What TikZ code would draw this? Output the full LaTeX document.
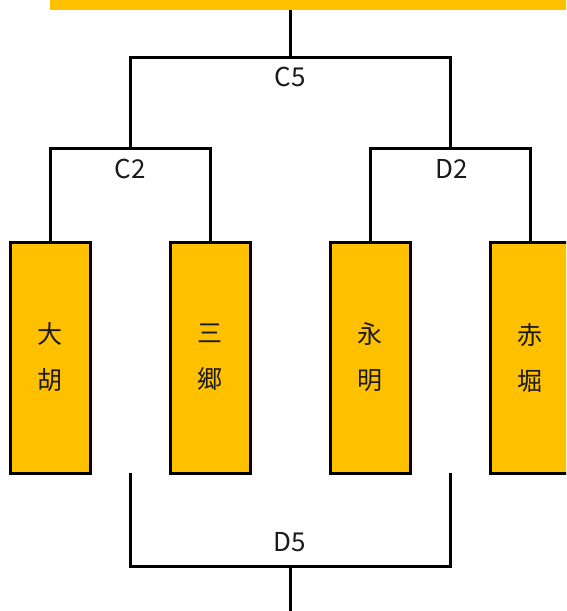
\documentclass[tikz,border=0pt]{standalone}
\usepackage{fontspec}
\newfontfamily\cjk{Noto Sans CJK JP}
\definecolor{gold}{HTML}{FFC000}
\definecolor{ink}{HTML}{1A1A1A}
\begin{document}
\begin{tikzpicture}[x=1pt,y=-1pt,
  teambox/.style={draw=black,line width=3pt,fill=gold,minimum width=80pt,minimum height=231pt,inner sep=0pt,
    font=\cjk\fontsize{25}{46}\selectfont,text=ink,align=center},
  bar/.style={fill=gold,inner sep=0pt,minimum width=520pt,minimum height=14pt},
  link/.style={line width=3pt,line cap=rect},
  lbl/.style={font=\cjk\fontsize{26}{30}\selectfont,text=ink,inner sep=0pt}]
\useasboundingbox (0,0) rectangle (566,611);
\clip (0,0) rectangle (566,611);
\node[bar] (top) at (310,3) {};
\node[teambox] (t1) at (50,357.5) {大\\胡};
\node[teambox] (t2) at (210,357.5) {三\\郷};
\node[teambox] (t3) at (370,357.5) {永\\明};
\node[teambox] (t4) at (530,357.5) {赤\\堀};
\coordinate (c5) at (290,57);
\coordinate (c5l) at (130,57);
\coordinate (c5r) at (450,57);
\coordinate (c2) at (130,148);
\coordinate (c2l) at (50,148);
\coordinate (c2r) at (210,148);
\coordinate (d2) at (450,148);
\coordinate (d2l) at (370,148);
\coordinate (d2r) at (530,148);
\coordinate (d5l0) at (130,473);
\coordinate (d5r0) at (450,473);
\coordinate (d5l) at (130,566);
\coordinate (d5r) at (450,566);
\coordinate (d5) at (290,566);
\coordinate (out) at (290,611);
\draw[link,line cap=butt] (top.south -| c5) -- (c5);
\draw[link] (c2) -- (c5l) -- (c5r) -- (d2);
\draw[link,line cap=butt] (t1.north) -- (c2l);
\draw[link] (c2l) -- (c2r);
\draw[link,line cap=butt] (c2r) -- (t2.north);
\draw[link,line cap=butt] (t3.north) -- (d2l);
\draw[link] (d2l) -- (d2r);
\draw[link,line cap=butt] (d2r) -- (t4.north);
\draw[link,line cap=butt] (d5l0) -- (d5l);
\draw[link] (d5l) -- (d5r);
\draw[link,line cap=butt] (d5r) -- (d5r0);
\draw[link,line cap=butt] (d5) -- (out);
\node[lbl] (l5) at (290,77) {C5};
\node[lbl] (l2) at (130,169) {C2};
\node[lbl] (ld2) at (452,169) {D2};
\node[lbl] (ld5) at (290,542) {D5};
\end{tikzpicture}
\end{document}
